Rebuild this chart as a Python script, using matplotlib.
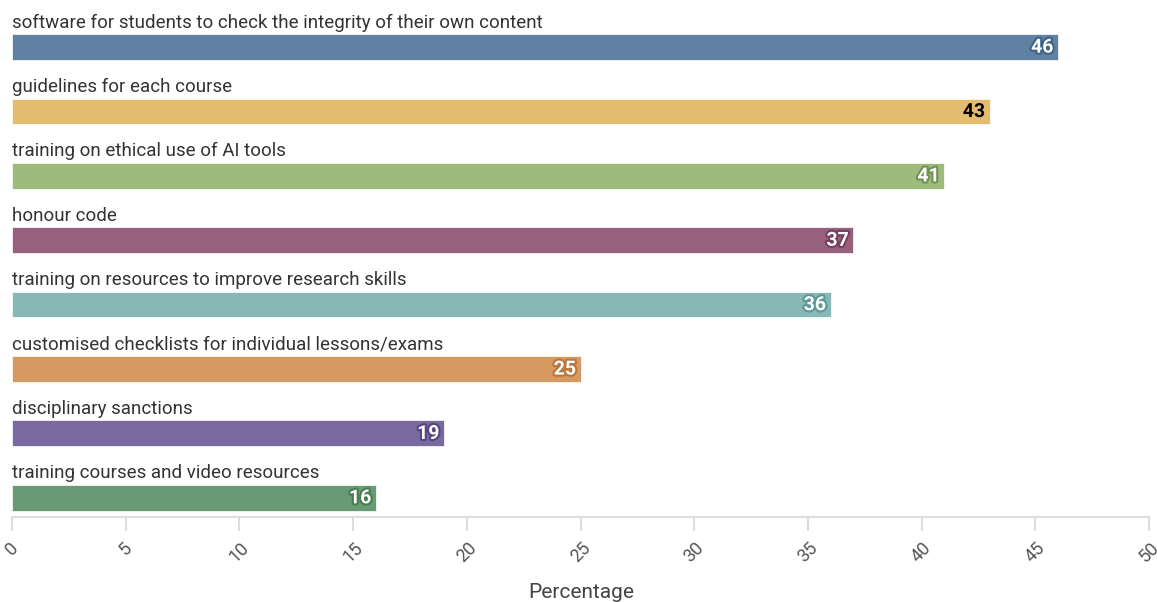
import matplotlib.pyplot as plt
import matplotlib.patheffects as pe

# Data
categories = [
    "software for students to check the integrity of their own content",
    "guidelines for each course",
    "training on ethical use of AI tools",
    "honour code",
    "training on resources to improve research skills",
    "customised checklists for individual lessons/exams",
    "disciplinary sanctions",
    "training courses and video resources",
]
values = [46, 43, 41, 37, 36, 25, 19, 16]
colors = ["#5f81a2", "#e4be6e", "#9dbb7c", "#97607f", "#86b8b6",
          "#d6995f", "#786a9f", "#6a9a74"]
edge_colors = ["#3f6288", "#e4be6e", "#6f9350", "#763f5e", "#5c9896",
               "#b8773e", "#54467f", "#477b50"]
label_colors = ["white", "black", "white", "white", "white", "white", "white", "white"]
xticks = list(range(0, 55, 5))

plt.rcParams['font.family'] = ['Roboto', 'DejaVu Sans']

fig = plt.figure(figsize=(11.57, 6.02), dpi=100)
ax = fig.add_axes([12 / 1157, 1 - 517 / 602, 1137 / 1157, 517 / 602])

y = list(range(len(values)))
ax.barh(y, values, height=0.40, color=colors, edgecolor="#ffffff", linewidth=0.5)
ax.set_xlim(0, 50)
ax.set_ylim(7.30, -0.73)

for i, (cat, v) in enumerate(zip(categories, values)):
    ax.text(0, i - 0.30, cat, ha="left", va="baseline", fontsize=13.5, color="#333333")
    ax.text(v - 0.2, i + 0.01, str(v), ha="right", va="center", fontsize=14,
            fontweight="bold", color=label_colors[i],
            path_effects=[pe.withStroke(linewidth=3, foreground=edge_colors[i])])

ax.set_yticks([])
ax.set_xticks(xticks)
ax.set_xticklabels([str(t) for t in xticks], rotation=45, ha="center", va="top",
                   fontsize=13, color="#555555")
ax.tick_params(axis="x", length=10, color="#dddddd", width=1.5, pad=6)
for s in ["top", "right", "left"]:
    ax.spines[s].set_visible(False)
ax.spines["bottom"].set_color("#dddddd")
ax.spines["bottom"].set_linewidth(1.5)

fig.text(581 / 1157, 1 - 592 / 602, "Percentage", ha="center", va="center",
         fontsize=15, color="#444444")

fig.savefig("out.png", dpi=100)
